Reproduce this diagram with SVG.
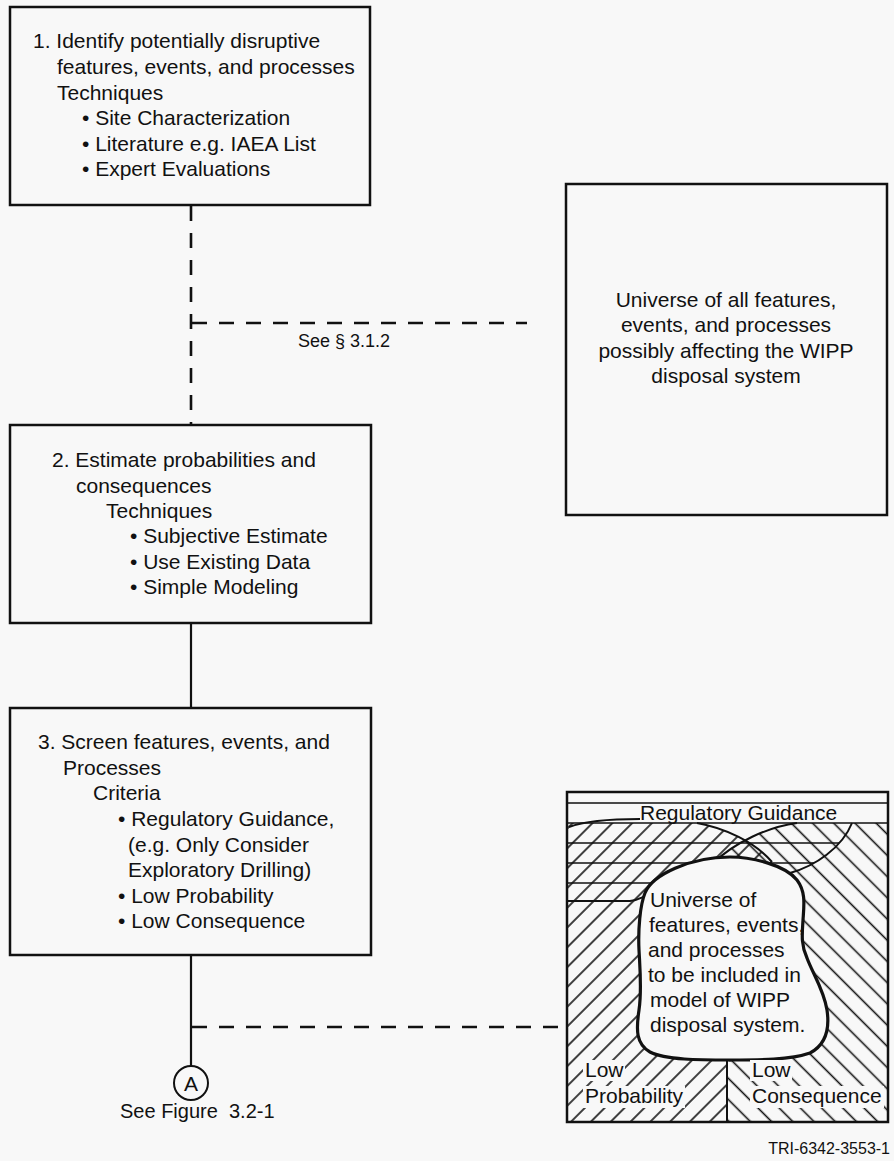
<svg xmlns="http://www.w3.org/2000/svg" width="894" height="1161" viewBox="0 0 894 1161">
<style>
  .t { font-family: "Liberation Sans", Arial, sans-serif; font-size: 21px; fill: #111; }
  .s { font-family: "Liberation Sans", Arial, sans-serif; font-size: 18px; fill: #111; }
  .f { font-family: "Liberation Sans", Arial, sans-serif; font-size: 20px; fill: #111; white-space: pre; }
  .id { font-family: "Liberation Sans", Arial, sans-serif; font-size: 16px; fill: #111; }
  .c { text-anchor: middle; }
  .box { fill: none; stroke: #111; stroke-width: 2.5; }
  .solid { stroke: #111; stroke-width: 2.2; fill: none; }
  .dash { stroke: #111; stroke-width: 2.6; fill: none; stroke-dasharray: 15 12; }
  .hl { stroke: #111; stroke-width: 1.6; fill: none; }
  .bd { stroke: #111; stroke-width: 2; fill: none; }
</style>
<defs>
  <pattern id="fw" patternUnits="userSpaceOnUse" width="14" height="14" patternTransform="rotate(45)">
    <line x1="7" y1="0" x2="7" y2="14" stroke="#111" stroke-width="1.6"/>
  </pattern>
  <pattern id="bk" patternUnits="userSpaceOnUse" width="15" height="15" patternTransform="rotate(-45)">
    <line x1="7.5" y1="0" x2="7.5" y2="15" stroke="#111" stroke-width="1.6"/>
  </pattern>
  <clipPath id="regclip">
    <path d="M567,823 L852,823 C842,848 815,866 790,873 L680,878 C655,885 650,898 630,901 L567,901 Z"/>
  </clipPath>
</defs>
<rect x="0" y="0" width="894" height="1161" fill="#f8f8f8"/>

<g id="connectors">
  <line class="dash" x1="191" y1="206" x2="191" y2="424"/>
  <line class="dash" x1="192" y1="323" x2="527" y2="323"/>
  <line class="solid" x1="191" y1="624" x2="191" y2="707"/>
  <line class="solid" x1="191" y1="956" x2="191" y2="1066"/>
  <line class="dash" x1="192" y1="1027" x2="564" y2="1027"/>
</g>

<g id="box1">
  <rect class="box" x="10" y="7" width="360" height="198"/>
  <text class="t" x="33" y="48">1. Identify potentially disruptive</text>
  <text class="t" x="57" y="74">features, events, and processes</text>
  <text class="t" x="57" y="100">Techniques</text>
  <text class="t" x="82" y="125">• Site Characterization</text>
  <text class="t" x="82" y="151">• Literature e.g. IAEA List</text>
  <text class="t" x="82" y="176">• Expert Evaluations</text>
</g>

<g id="see312">
  <text class="s" x="298" y="347">See § 3.1.2</text>
</g>

<g id="universe-all">
  <rect class="box" x="566" y="184" width="321" height="331"/>
  <text class="t c" x="726" y="307">Universe of all features,</text>
  <text class="t c" x="726" y="332">events, and processes</text>
  <text class="t c" x="726" y="358">possibly affecting the WIPP</text>
  <text class="t c" x="726" y="383">disposal system</text>
</g>

<g id="box2">
  <rect class="box" x="10" y="425" width="361" height="198"/>
  <text class="t" x="52" y="467">2. Estimate probabilities and</text>
  <text class="t" x="76" y="493">consequences</text>
  <text class="t" x="106" y="518">Techniques</text>
  <text class="t" x="130" y="543">• Subjective Estimate</text>
  <text class="t" x="130" y="569">• Use Existing Data</text>
  <text class="t" x="130" y="594">• Simple Modeling</text>
</g>

<g id="box3">
  <rect class="box" x="10" y="708" width="361" height="247"/>
  <text class="t" x="38" y="749">3. Screen features, events, and</text>
  <text class="t" x="63" y="775">Processes</text>
  <text class="t" x="93" y="800">Criteria</text>
  <text class="t" x="118" y="826">• Regulatory Guidance,</text>
  <text class="t" x="128" y="852">(e.g. Only Consider</text>
  <text class="t" x="128" y="877">Exploratory Drilling)</text>
  <text class="t" x="118" y="903">• Low Probability</text>
  <text class="t" x="118" y="928">• Low Consequence</text>
</g>

<g id="circleA">
  <circle cx="191" cy="1083" r="17" fill="none" stroke="#111" stroke-width="2"/>
  <text class="t c" x="191" y="1091">A</text>
  <text class="f" x="120" y="1118">See Figure  3.2-1</text>
</g>

<g id="screened-universe">
  <!-- Low probability (/) region -->
  <path d="M567,823 L697,823 C725,828 755,842 772,862 L772,1055 L727,1062 L727,1122 L567,1122 Z" fill="url(#fw)"/>
  <!-- Low consequence (\) region -->
  <path d="M888,823 L797,823 C768,827 735,842 712,864 L700,1055 L727,1062 L727,1122 L888,1122 Z" fill="url(#bk)"/>
  <!-- Regulatory guidance horizontal hatching -->
  <line class="hl" x1="567" y1="803" x2="888" y2="803"/>
  <line class="hl" x1="567" y1="823" x2="888" y2="823"/>
  <g clip-path="url(#regclip)">
    <line class="hl" x1="567" y1="843" x2="888" y2="843"/>
    <line class="hl" x1="567" y1="863" x2="888" y2="863"/>
    <line class="hl" x1="567" y1="883" x2="888" y2="883"/>
  </g>
  <!-- region boundaries -->
  <path class="bd" d="M567,901 L630,901 C650,898 655,885 680,878 L790,873 C815,866 842,848 852,823"/>
  <path class="bd" d="M697,823 C725,828 755,842 772,862"/>
  <path class="bd" d="M797,823 C768,827 735,842 712,864"/>
  <line class="bd" x1="727" y1="1058" x2="727" y2="1122"/>
  <!-- label -->
  <path class="bd" d="M569,827 Q590,819 640,819"/>
  <rect x="640" y="804" width="200" height="17" fill="#f8f8f8"/>
  <text class="t" x="640" y="820">Regulatory Guidance</text>
  <!-- inner universe blob -->
  <path d="M730,857 C752,857 785,865 797,880 C806,892 804,905 803,920 C802,935 801,945 807,958 C812,972 824,990 827,1010 C830,1030 825,1045 810,1053 C790,1060 760,1060 730,1060 C700,1060 665,1060 650,1052 C636,1044 636,1030 639,1010 C642,990 640,970 639,950 C638,930 640,905 645,893 C652,875 690,857 730,857 Z" fill="#f8f8f8" stroke="#111" stroke-width="3.2"/>
  <text class="t" x="650" y="907">Universe of</text>
  <text class="t" x="649" y="932">features, events,</text>
  <text class="t" x="648" y="957">and processes</text>
  <text class="t" x="648" y="982">to be included in</text>
  <text class="t" x="650" y="1007">model of WIPP</text>
  <text class="t" x="650" y="1032">disposal system.</text>
  <!-- bottom labels -->
  <rect x="583" y="1060" width="42" height="21" fill="#f8f8f8"/>
  <rect x="583" y="1086" width="102" height="22" fill="#f8f8f8"/>
  <rect x="750" y="1060" width="42" height="21" fill="#f8f8f8"/>
  <rect x="750" y="1086" width="134" height="22" fill="#f8f8f8"/>
  <text class="t" x="585" y="1077">Low</text>
  <text class="t" x="585" y="1103">Probability</text>
  <text class="t" x="752" y="1077">Low</text>
  <text class="t" x="752" y="1103">Consequence</text>
  <rect class="box" x="567" y="792" width="321" height="330"/>
</g>

<g id="figure-id">
  <text class="id" x="890" y="1154" text-anchor="end">TRI-6342-3553-1</text>
</g>
</svg>
